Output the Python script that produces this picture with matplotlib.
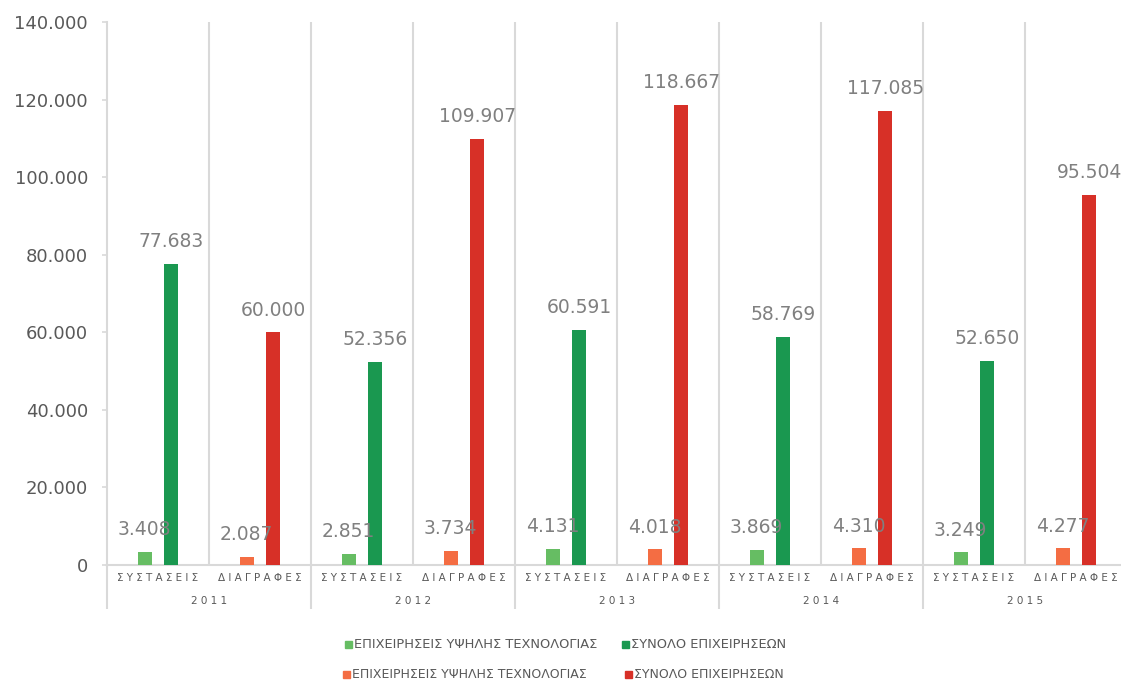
import matplotlib.pyplot as plt
from matplotlib.patches import Rectangle

# Δεδομένα
years = ['2011', '2012', '2013', '2014', '2015']
categories = ['ΣΥΣΤΑΣΕΙΣ', 'ΔΙΑΓΡΑΦΕΣ']
syst_high_tech = [3408, 2851, 4131, 3869, 3249]
syst_total = [77683, 52356, 60591, 58769, 52650]
diag_high_tech = [2087, 3734, 4018, 4310, 4277]
diag_total = [60000, 109907, 118667, 117085, 95504]

legend_labels = ['ΕΠΙΧΕΙΡΗΣΕΙΣ ΥΨΗΛΗΣ ΤΕΧΝΟΛΟΓΙΑΣ', 'ΣΥΝΟΛΟ ΕΠΙΧΕΙΡΗΣΕΩΝ']
yticks = [0, 20000, 40000, 60000, 80000, 100000, 120000, 140000]

c_lgreen = '#66bd63'
c_dgreen = '#1a9850'
c_orange = '#f46d43'
c_red = '#d73027'
grid_c = '#d9d9d9'
label_c = '#808080'
text_c = '#595959'

W, H = 1121, 682


def fmt(v):
    return f"{v:,}".replace(',', '.')


def spaced(s):
    return ' '.join(s)


fig = plt.figure(figsize=(11.21, 6.82), dpi=100)
ax = fig.add_axes([107 / W, 1 - 565 / H, 1020 / W, 543 / H])

w = 0.137
off_a, off_b = 0.37, 0.63

for i in range(len(years)):
    s = 2 * i
    d = 2 * i + 1
    bars = [
        (s + off_a, syst_high_tech[i], c_lgreen),
        (s + off_b, syst_total[i], c_dgreen),
        (d + off_a, diag_high_tech[i], c_orange),
        (d + off_b, diag_total[i], c_red),
    ]
    for x, v, c in bars:
        ax.bar(x, v, width=w, color=c, zorder=3)
        ax.annotate(fmt(v), (x, v), xytext=(0, 16), textcoords='offset points',
                    ha='center', va='center', fontsize=13.5, color=label_c, zorder=4)

ax.set_xlim(0, 10)
ax.set_ylim(0, 140000)

# κάθετες γραμμές πλέγματος
for xg in range(1, 11):
    ax.axvline(xg, color=grid_c, lw=1.5, zorder=1)

for sp in ['top', 'right']:
    ax.spines[sp].set_visible(False)
ax.spines['left'].set_color(grid_c)
ax.spines['left'].set_linewidth(1.5)
ax.spines['bottom'].set_color(grid_c)
ax.spines['bottom'].set_linewidth(1.5)

ax.set_yticks(yticks)
ax.set_yticklabels([fmt(t) for t in yticks])
ax.tick_params(axis='y', direction='out', length=3.6, width=1.2, color=grid_c,
               labelsize=13, labelcolor=text_c, pad=10)
ax.set_xticks([])

# ετικέτες κατηγοριών και ετών
tr = ax.get_xaxis_transform()
for i, yr in enumerate(years):
    for j, cat in enumerate(categories):
        ax.text(2 * i + j + 0.5, -0.024, spaced(cat), transform=tr, ha='center',
                va='center', fontsize=7.5, color=text_c)
    ax.text(2 * i + 1, -0.066, spaced(yr), transform=tr, ha='center',
            va='center', fontsize=7.5, color=text_c)
ax.vlines([0, 2, 4, 6, 8, 10], -0.081, 0, transform=tr, colors=grid_c, lw=1.5,
          clip_on=False)

# υπόμνημα σε δύο γραμμές (θέσεις σε pixel)
rows = [
    (644, 9.4, [(345, c_lgreen), (622, c_dgreen)]),
    (674, 9.0, [(343, c_orange), (625, c_red)]),
]
sq = 7
for y, fs, items in rows:
    for (x, c), lab in zip(items, legend_labels):
        fig.patches.append(Rectangle((x / W, 1 - (y + sq / 2) / H), sq / W, sq / H,
                                     transform=fig.transFigure, color=c))
        fig.text((x + sq + 2) / W, 1 - y / H, lab, ha='left', va='center',
                 fontsize=fs, color=text_c)

fig.savefig('out.png', dpi=100)
